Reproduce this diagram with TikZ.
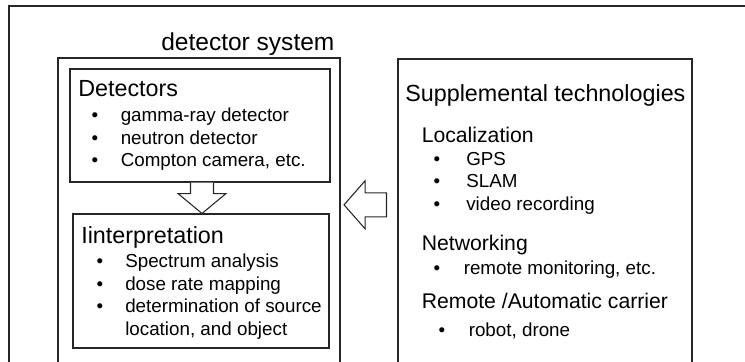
\documentclass[tikz,border=0pt]{standalone}
\usepackage{fontspec}
\setmainfont{Liberation Sans}
\usetikzlibrary{fit,calc}
\newcommand{\sysfont}{\fontsize{18.4}{22}\selectfont}
\newcommand{\boxheadfont}{\fontsize{17.5}{21}\selectfont}
\newcommand{\groupfont}{\fontsize{15.9}{19}\selectfont}
\newcommand{\listfont}{\fontsize{14.1}{17}\selectfont}
\tikzset{
  frame/.style={draw=black!85, line width=0.8pt},
  panel/.style={frame, inner sep=0pt},
  blockarrow/.style={draw=black!85, line width=0.8pt, fill=white, line join=miter},
  lbl/.style={inner sep=0pt, anchor=base west},
  dot/.style={inner sep=0pt, anchor=base},
}
\begin{document}
\begin{tikzpicture}[x=0.75pt,y=-0.75pt]
\useasboundingbox (0,0) rectangle (745,361);
\clip (0,0) rectangle (745,361);
\fill[white] (0,0) rectangle (745,361);

% outer frame
\draw[frame] (9,380) -- (9,6) -- (760,6);

% panels
\node[panel, fit={(58,58) (340,380)}] (sys) {};
\node[panel, fit={(398,59) (692,380)}] (supp) {};
\node[panel, fit={(70,69) (330,182)}] (det) {};
\node[panel, fit={(73,214) (329,348)}] (interp) {};

% detector system
\node[lbl] (systitle) at (161,50.7) {\sysfont detector system};

\node[lbl] (dethead) at (78,96.7) {\boxheadfont Detectors};
\node[dot] (db1) at (95,121) {\listfont •};
\node[dot] (db2) at (95,144) {\listfont •};
\node[dot] (db3) at (95,166.7) {\listfont •};
\node[lbl] (dt1) at (120.5,121) {\listfont gamma-ray detector};
\node[lbl] (dt2) at (120.5,144) {\listfont neutron detector};
\node[lbl] (dt3) at (120.5,166.7) {\listfont Compton camera, etc.};

\node[lbl] (inthead) at (81,243.3) {\boxheadfont Iinterpretation};
\node[dot] (ib1) at (100,267.3) {\listfont •};
\node[dot] (ib2) at (100,290.7) {\listfont •};
\node[dot] (ib3) at (100,312.7) {\listfont •};
\node[lbl] (it1) at (125,267.3) {\listfont Spectrum analysis};
\node[lbl] (it2) at (125,290.7) {\listfont dose rate mapping};
\node[lbl] (it3) at (125,312.7) {\listfont determination of source};
\node[lbl] (it4) at (125,335.7) {\listfont location, and object};

% supplemental technologies
\node[lbl] (supphead) at (405,101.7) {\boxheadfont Supplemental technologies};

\node[lbl] (loc) at (421.5,142.7) {\groupfont Localization};
\node[dot] (lb1) at (437,165.7) {\listfont •};
\node[dot] (lb2) at (437,187.7) {\listfont •};
\node[dot] (lb3) at (437,210.7) {\listfont •};
\node[lbl] (lt1) at (466,165.7) {\listfont GPS};
\node[lbl] (lt2) at (466,187.7) {\listfont SLAM};
\node[lbl] (lt3) at (466,210.7) {\listfont video recording};

\node[lbl] (net) at (421.5,250) {\groupfont Networking};
\node[dot] (nb1) at (437,274) {\listfont •};
\node[lbl] (nt1) at (463.5,274) {\listfont remote monitoring, etc.};

\node[lbl] (car) at (421.5,308.3) {\groupfont Remote /Automatic carrier};
\node[dot] (cb1) at (442,336.7) {\listfont •};
\node[lbl] (ct1) at (468.5,336.7) {\listfont robot, drone};

% block arrow: detectors -> interpretation
\coordinate (dtop) at ([xshift=1.5pt]det.south);
\draw[blockarrow] ($(dtop)+(-11.5,0)$) -- ($(dtop)+(-11.5,11)$) -- ($(dtop)+(-24,11)$)
  -- (dtop |- interp.north) -- ($(dtop)+(24,11)$) -- ($(dtop)+(11.5,11)$)
  -- ($(dtop)+(11.5,0)$);

% block arrow: supplemental technologies -> detector system
\coordinate (ltip) at ($(sys.east |- 0,204.8)+(3.5,0)$);
\coordinate (ltail) at ($(supp.west |- 0,204.8)+(-11,0)$);
\draw[blockarrow] (ltip) -- ($(ltip)+(21,-24)$) -- ($(ltip)+(21,-12)$)
  -- ($(ltail)+(0,-12)$) -- ($(ltail)+(0,12)$) -- ($(ltip)+(21,12)$)
  -- ($(ltip)+(21,24)$) -- cycle;
\end{tikzpicture}
\end{document}
